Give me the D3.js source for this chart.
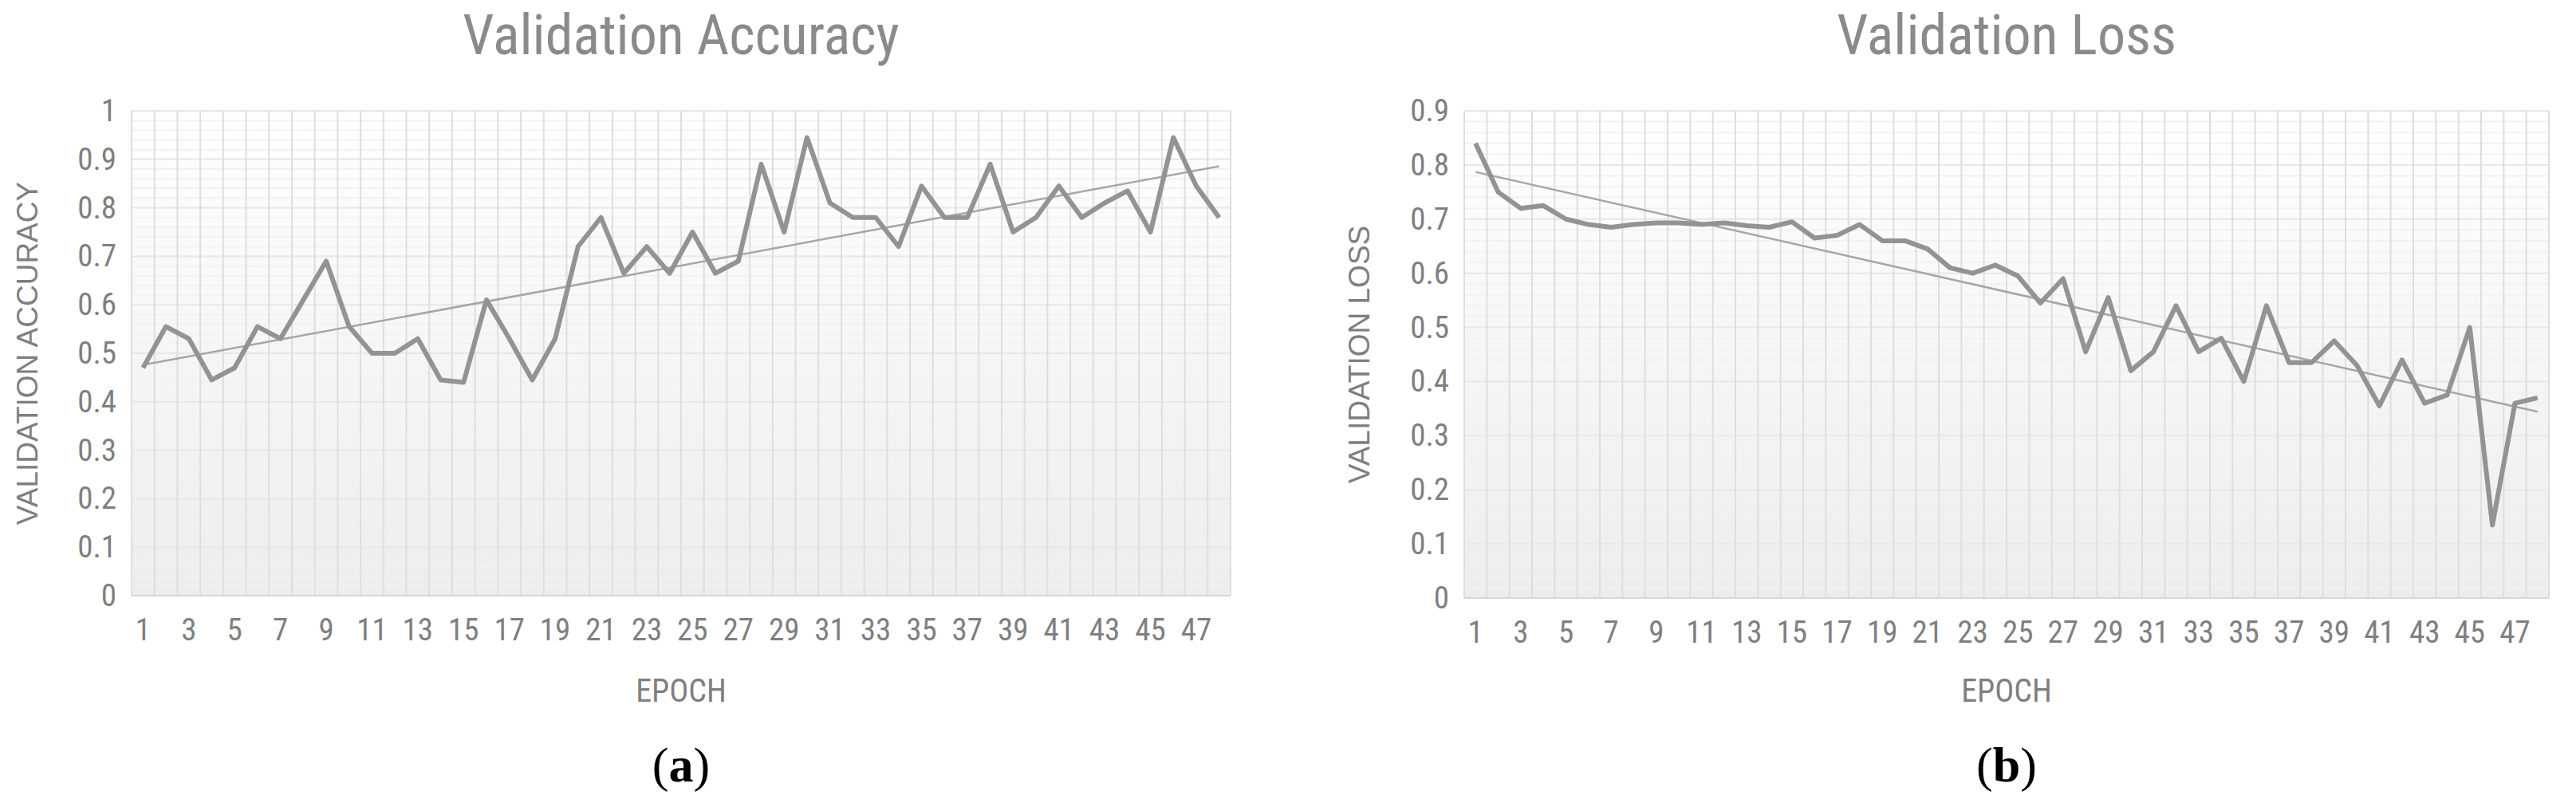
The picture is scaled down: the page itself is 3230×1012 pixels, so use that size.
<!DOCTYPE html>
<html><head><meta charset="utf-8">
<script src="https://cdn.jsdelivr.net/npm/d3@7"></script>
<style>body{margin:0;background:#fff}</style></head>
<body><svg id="c" width="3230" height="1012"></svg>
<script>
const epochs = d3.range(1, 49);
const accuracy = [0.47,0.555,0.53,0.445,0.47,0.555,0.53,0.61,0.69,0.555,0.5,0.5,0.53,0.445,0.44,0.61,0.53,0.445,0.53,0.72,0.78,0.665,0.72,0.665,0.75,0.665,0.69,0.89,0.75,0.945,0.81,0.78,0.78,0.72,0.845,0.78,0.78,0.89,0.75,0.78,0.845,0.78,0.81,0.835,0.75,0.945,0.845,0.78];
const loss = [0.84,0.75,0.72,0.725,0.70,0.69,0.685,0.69,0.693,0.693,0.69,0.693,0.688,0.685,0.695,0.665,0.67,0.69,0.66,0.66,0.645,0.61,0.60,0.615,0.595,0.545,0.59,0.455,0.555,0.42,0.455,0.54,0.455,0.48,0.40,0.54,0.435,0.435,0.475,0.43,0.355,0.44,0.36,0.375,0.50,0.135,0.36,0.37];
const accTicks = [0,0.1,0.2,0.3,0.4,0.5,0.6,0.7,0.8,0.9,1];
const lossTicks = [0,0.1,0.2,0.3,0.4,0.5,0.6,0.7,0.8,0.9];

const svg = d3.select("#c");
const defs = svg.append("defs");
const g0 = defs.append("linearGradient").attr("id","bg").attr("x1",0).attr("y1",0).attr("x2",0).attr("y2",1);
g0.append("stop").attr("offset","0%").attr("stop-color","#ffffff");
g0.append("stop").attr("offset","100%").attr("stop-color","#ededed");
const font = "'Liberation Sans Narrow','Roboto Condensed','Liberation Sans',sans-serif";

function panel(o){
  const g = svg.append("g");
  const x = d3.scaleBand().domain(epochs).range([o.x0,o.x1]);
  const y = d3.scaleLinear().domain([0,o.max]).range([o.y0,o.y1]);
  g.append("rect").attr("x",o.x0).attr("y",o.y1).attr("width",o.x1-o.x0).attr("height",o.y0-o.y1).attr("fill","url(#bg)");
  const minor = d3.range(0, o.max+0.0001, 0.02);
  g.selectAll(".mh").data(minor).join("line").attr("x1",o.x0).attr("x2",o.x1)
    .attr("y1",d=>y(d)).attr("y2",d=>y(d)).attr("stroke","#f2f2f2").attr("stroke-width",2);
  g.selectAll(".mj").data(o.ticks).join("line").attr("x1",o.x0).attr("x2",o.x1)
    .attr("y1",d=>y(d)).attr("y2",d=>y(d)).attr("stroke","#e8e8e8").attr("stroke-width",2);
  const bounds = epochs.map(e=>x(e)).concat([o.x1]);
  g.selectAll(".v").data(bounds).join("line").attr("x1",d=>d).attr("x2",d=>d)
    .attr("y1",o.y1).attr("y2",o.y0).attr("stroke","#dedede").attr("stroke-width",2);
  g.append("line").attr("x1",o.x0).attr("x2",o.x1).attr("y1",o.y0).attr("y2",o.y0).attr("stroke","#d6d6d6").attr("stroke-width",2);
  const ya = g.append("g").attr("transform",`translate(${o.x0-16},0)`)
    .call(d3.axisLeft(y).tickValues(o.ticks).tickSize(0).tickFormat(d=>d3.format("")(+d.toFixed(1))));
  ya.select(".domain").remove();
  ya.selectAll("text").attr("font-family",font).attr("font-size",39).attr("fill","#7f7f7f");
  const xa = g.append("g").attr("transform",`translate(0,${o.y0+22})`)
    .call(d3.axisBottom(x).tickValues(epochs.filter(e=>e%2===1)).tickSize(0));
  xa.select(".domain").remove();
  xa.selectAll("text").attr("font-family",font).attr("font-size",39).attr("fill","#7f7f7f").attr("dy","0.8em");
  const mx = d3.mean(epochs), my = d3.mean(o.data);
  const b = d3.sum(epochs,(e,i)=>(e-mx)*(o.data[i]-my))/d3.sum(epochs,e=>(e-mx)*(e-mx));
  const a = my - b*mx;
  const cx = e=>x(e)+x.bandwidth()/2;
  g.append("line").attr("x1",cx(1)).attr("x2",cx(48)).attr("y1",y(a+b)).attr("y2",y(a+b*48))
    .attr("stroke","#a6a6a6").attr("stroke-width",2.5);
  g.append("path").datum(o.data).attr("fill","none").attr("stroke","#939393").attr("stroke-width",6)
    .attr("stroke-linejoin","round")
    .attr("d",d3.line().x((d,i)=>cx(epochs[i])).y(d=>y(d)));
  g.append("text").attr("x",(o.x0+o.x1)/2).attr("y",68).attr("text-anchor","middle")
    .attr("font-family",font).attr("font-size",70).attr("fill","#8a8a8a").text(o.title);
  g.append("text").attr("x",(o.x0+o.x1)/2).attr("y",880).attr("text-anchor","middle")
    .attr("font-family",font).attr("font-size",40).attr("fill","#7f7f7f").text("EPOCH");
  g.append("text").attr("transform",`translate(${o.yt},${(o.y0+o.y1)/2}) rotate(-90)`).attr("text-anchor","middle")
    .attr("font-family","'Liberation Sans',sans-serif").attr("font-size",37).attr("fill","#7f7f7f").text(o.ytitle);
  g.append("text").attr("x",(o.x0+o.x1)/2).attr("y",980).attr("text-anchor","middle")
    .attr("font-family","'Liberation Serif',serif").attr("font-size",62).attr("fill","#000")
    .html(`(<tspan font-weight="bold">${o.tag}</tspan>)`);
}
panel({x0:165,x1:1543,y0:747,y1:139,max:1,ticks:accTicks,data:accuracy,title:"Validation Accuracy",ytitle:"VALIDATION ACCURACY",yt:47,tag:"a"});
panel({x0:1836,x1:3196,y0:750,y1:139,max:0.9,ticks:lossTicks,data:loss,title:"Validation Loss",ytitle:"VALIDATION LOSS",yt:1717,tag:"b"});
</script></body></html>
